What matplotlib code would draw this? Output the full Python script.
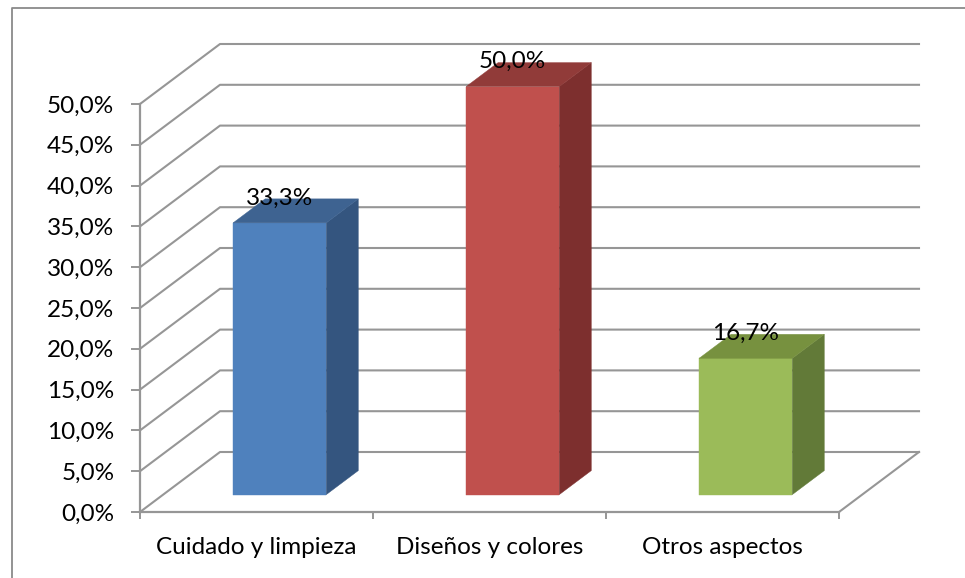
import matplotlib
matplotlib.use('Agg')
import matplotlib.pyplot as plt
from matplotlib.lines import Line2D
from matplotlib.patches import Polygon
import numpy as np

categorias = ['Cuidado y limpieza', 'Diseños y colores', 'Otros aspectos']
valores = [33.3, 50.0, 16.7]
etiquetas = ['33,3%', '50,0%', '16,7%']
ticks_y = [0, 5, 10, 15, 20, 25, 30, 35, 40, 45, 50]
ticks_y_txt = ['0,0%', '5,0%', '10,0%', '15,0%', '20,0%', '25,0%', '30,0%',
               '35,0%', '40,0%', '45,0%', '50,0%']
caras = ['#4F81BD', '#C0504D', '#9BBB59']
lados = ['#34557F', '#7D2F2E', '#627A38']
tapas = ['#3E6391', '#913B39', '#77913F']

W, H = 965, 578
X0, X1, Y0, Y1 = 140, 839, 512, 104
GRIS = '#969696'

plt.rcParams.update({'font.family': 'Lato', 'font.size': 17.5})

fig = plt.figure(figsize=(W / 100, H / 100), dpi=100)
ax = fig.add_axes([X0 / W, 1 - Y0 / H, (X1 - X0) / W, (Y0 - Y1) / H])
ax.patch.set_alpha(0)
ax.set_xlim(0, len(categorias))
ax.set_ylim(0, 50)

# desplazamiento oblicuo del fondo, en unidades de datos
DX = 80 / ((X1 - X0) / len(categorias))
DY = 60 / ((Y0 - Y1) / 50)


def proy(cat, val, prof):
    """Punto (categoria, valor) a una profundidad 0-1."""
    return cat + prof * DX, val + prof * DY


# rejilla: pared lateral y pared del fondo
n = len(categorias)
for v in ticks_y:
    pts = [proy(0, v, 0), proy(0, v, 1), proy(n, v, 1)]
    ax.plot(*zip(*pts), color=GRIS, lw=1.5, clip_on=False, zorder=1)
pts = [proy(n, 0, 1), proy(n, 0, 0)]
ax.plot(*zip(*pts), color=GRIS, lw=1.5, clip_on=False, zorder=1)

# barras
ANCHO = 0.4
P0, P1 = 0.29, 0.69
for i, val in enumerate(valores):
    a, b = i + 0.5 - ANCHO / 2, i + 0.5 + ANCHO / 2
    frente = [proy(a, 0, P0), proy(b, 0, P0), proy(b, val, P0), proy(a, val, P0)]
    lado = [proy(b, 0, P0), proy(b, 0, P1), proy(b, val, P1), proy(b, val, P0)]
    tapa = [proy(a, val, P0), proy(b, val, P0), proy(b, val, P1), proy(a, val, P1)]
    for pol, col in ((frente, caras[i]), (lado, lados[i]), (tapa, tapas[i])):
        ax.add_patch(Polygon(pol, closed=True, facecolor=col, edgecolor=col,
                             lw=0.3, clip_on=False, zorder=3))
    ax.annotate(etiquetas[i], xy=proy(i + 0.5, val, P0), xytext=(0, 13.2),
                textcoords='offset points', ha='center', va='baseline',
                color='black', zorder=5, annotation_clip=False)

# ejes
for lado_eje in ('top', 'right'):
    ax.spines[lado_eje].set_visible(False)
for lado_eje in ('left', 'bottom'):
    ax.spines[lado_eje].set_color(GRIS)
    ax.spines[lado_eje].set_linewidth(1.6)
ax.set_yticks(ticks_y, ticks_y_txt)
ax.set_xticks(np.arange(n + 1), [''] * (n + 1))
ax.set_xticks(np.arange(n) + 0.5, categorias, minor=True)
ax.tick_params(axis='y', length=6.5, width=1.4, color=GRIS, pad=12, labelcolor='black')
ax.tick_params(axis='x', which='major', length=5, width=1.4, color=GRIS)
ax.tick_params(axis='x', which='minor', length=0, pad=18, labelcolor='black')

# marco del grafico, recortado por la imagen
fig.add_artist(Line2D([11.5 / W, 11.5 / W, 1], [0, 1 - 7.5 / H, 1 - 7.5 / H],
                      color='#8A8A8A', lw=1.3))

fig.savefig('out.png', dpi=100, facecolor='white')
